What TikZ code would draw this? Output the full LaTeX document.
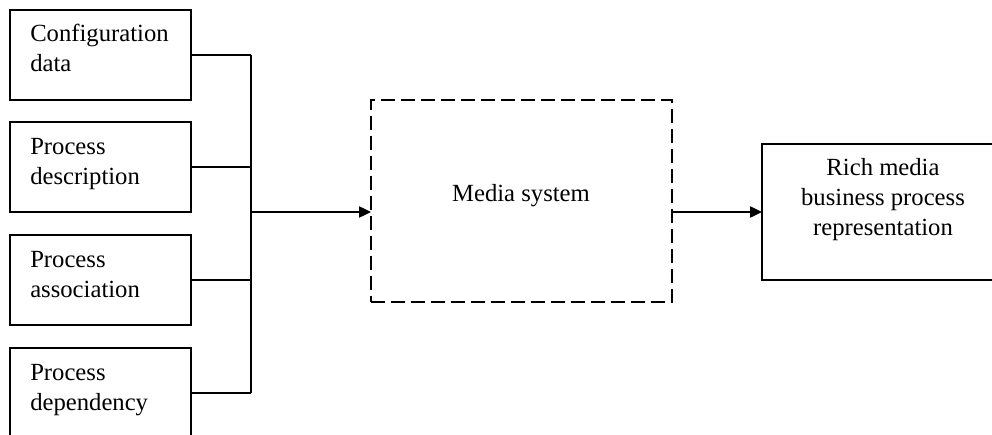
\documentclass[tikz,border=0pt]{standalone}
\usepackage{fontspec}
\setmainfont{Liberation Serif}
\usetikzlibrary{arrows.meta,calc}
\begin{document}
\begin{tikzpicture}[x=0.75pt,y=-0.75pt,
  every node/.style={font=\fontsize{18.5}{22.5}\selectfont},
  inbox/.style={draw, line width=1pt, minimum width=135.75pt, minimum height=67.5pt, inner sep=0pt, outer sep=0pt},
  intext/.style={anchor=west, align=left, inner sep=0pt},
  mediabox/.style={draw, line width=1.1pt, dash pattern=on 10.5pt off 4.5pt, minimum width=225.75pt, minimum height=151.5pt, inner sep=0pt, outer sep=0pt},
  richbox/.style={draw, line width=1pt, minimum width=181.5pt, minimum height=102pt, inner sep=0pt, outer sep=0pt},
  conn/.style={line width=1pt},
  arr/.style={line width=1pt, -{Triangle[length=9pt,width=8.5pt]}}]
\clip (0,0) rectangle (992,435);
% input boxes
\node[inbox] (b1) at (100.5,55) {};
\node[inbox] (b2) at (100.5,167) {};
\node[inbox] (b3) at (100.5,280) {};
\node[inbox] (b4) at (100.5,393) {};
\node[intext] (t1) at ($(b1.west)+(20,-4)$) {\strut Configuration\\\strut data};
\node[intext] (t2) at ($(b2.west)+(20,-4)$) {\strut Process\\\strut description};
\node[intext] (t3) at ($(b3.west)+(20,-4)$) {\strut Process\\\strut association};
\node[intext] (t4) at ($(b4.west)+(20,-4)$) {\strut Process\\\strut dependency};
% media system
\node[mediabox] (media) at (521.5,201) {};
\node[inner sep=0pt] (mt) at (521,195) {\strut Media system};
% output
\node[richbox] (rich) at (883,212) {};
\node[align=center, inner sep=0pt] (rt) at (883,199) {\strut Rich media\\\strut business process\\\strut representation};
% bus
\coordinate (j) at (251,212);
\draw[conn] (b1.east) -- (b1.east -| j);
\draw[conn] (b2.east) -- (b2.east -| j);
\draw[conn] (b3.east) -- (b3.east -| j);
\draw[conn] (b4.east) -- (b4.east -| j);
\draw[conn] (b1.east -| j) -- (b4.east -| j);
\draw[arr] (j) -- (j -| media.west);
\draw[arr] (rich.west -| media.east) -- (rich.west);
\end{tikzpicture}
\end{document}
